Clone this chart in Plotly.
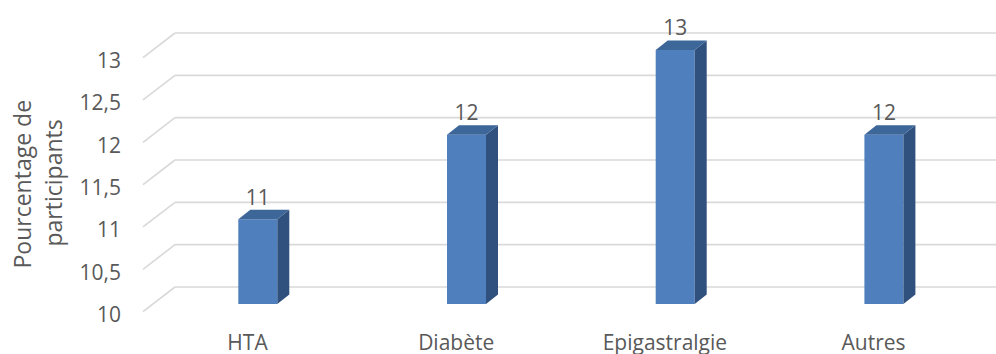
import plotly.graph_objects as go

# ---- data ----
categories = ["HTA", "Diabète", "Epigastralgie", "Autres"]
values = [11, 12, 13, 12]
tick_values = [10, 10.5, 11, 11.5, 12, 12.5, 13]
tick_labels = ["10", "10,5", "11", "11,5", "12", "12,5", "13"]
y_title_lines = ["Pourcentage de", "participants"]

# ---- geometry (pixels) ----
W, H = 996, 354
L, PT, PB = 143, 20, 330          # plot area left, top, bottom
BACK_X0 = 175                     # start of back wall
K = 254 / 3                       # pixels per unit on y
FLOOR = 10
BACK_FLOOR_PX = 287
FRONT_FLOOR_PX = 311.6
FRONT_LABEL_PX = 314.5            # row where the "10" tick label is centred
BAR_FLOOR_PX = 304
STEP = 208.7                      # pixels between categories
BAR_C0 = 257.8                    # pixel center of first bar front face
LABEL_C0 = 247.5                  # pixel center of first category label
LABEL_AXIS_PX = 327.5             # pixel row of the category label axis
BAR_W_PX = 39
DEPTH_DX_PX, DEPTH_DY_PX = 12, 9.5

TEXT = "#595959"
FONT = "Open Sans"
GRID = "#d9d9d9"
FRONT_COL, SIDE_COL, TOP_COL = "#4f7fbd", "#30517e", "#3d6699"


def yrange(floor_px):
    return [FLOOR + (floor_px - PB) / K, FLOOR + (floor_px - PT) / K]


def xrange(c0):
    return [(BACK_X0 - c0) / STEP, (W - c0) / STEP]


xpos = list(range(len(categories)))
hw = BAR_W_PX / STEP / 2
ddx = DEPTH_DX_PX / STEP
ddy = DEPTH_DY_PX / K

fig = go.Figure()

# front faces
fig.add_trace(go.Bar(
    x=xpos, y=[v - FLOOR for v in values], base=FLOOR, width=2 * hw,
    marker=dict(color=FRONT_COL, line=dict(width=0)),
    showlegend=False, hoverinfo="skip"))

# side and top faces
sx, sy, tx, ty = [], [], [], []
for c, v in zip(xpos, values):
    sx += [c + hw, c + hw + ddx, c + hw + ddx, c + hw, c + hw, None]
    sy += [FLOOR, FLOOR + ddy, v + ddy, v, FLOOR, None]
    tx += [c - hw, c + hw, c + hw + ddx, c - hw + ddx, c - hw, None]
    ty += [v, v, v + ddy, v + ddy, v, None]
fig.add_trace(go.Scatter(x=sx, y=sy, fill="toself", fillcolor=SIDE_COL,
                         mode="lines", line=dict(width=0, color=SIDE_COL),
                         showlegend=False, hoverinfo="skip"))
fig.add_trace(go.Scatter(x=tx, y=ty, fill="toself", fillcolor=TOP_COL,
                         mode="lines", line=dict(width=0, color=TOP_COL),
                         showlegend=False, hoverinfo="skip"))

# data labels
fig.add_trace(go.Scatter(
    x=xpos, y=[v + ddy for v in values], mode="text",
    text=[str(v) for v in values], textposition="top center",
    textfont=dict(family=FONT, size=21, color=TEXT),
    showlegend=False, hoverinfo="skip", cliponaxis=False))

# invisible carriers for the overlay axes
fig.add_trace(go.Scatter(x=xpos, y=[None] * len(xpos), mode="markers",
                         xaxis="x2", yaxis="y", showlegend=False, hoverinfo="skip"))
fig.add_trace(go.Scatter(x=[None], y=[None], mode="markers",
                         xaxis="x", yaxis="y2", showlegend=False, hoverinfo="skip"))
fig.add_trace(go.Scatter(x=[None], y=[None], mode="markers",
                         xaxis="x", yaxis="y3", showlegend=False, hoverinfo="skip"))

# back-wall lines and left-wall diagonal edges
front_shift = (FRONT_FLOOR_PX - BACK_FLOOR_PX) / K
dom0 = (BACK_X0 - L) / (W - L)
for v in tick_values:
    fig.add_shape(type="line", xref="paper", yref="y3",
                  x0=0, y0=v - front_shift, x1=dom0, y1=v,
                  line=dict(color=GRID, width=1.6), layer="below")
    fig.add_shape(type="line", xref="paper", yref="y3",
                  x0=dom0, y0=v, x1=1, y1=v,
                  line=dict(color=GRID, width=1.6), layer="below")

# y-axis title (two lines)
for line_text, px in zip(y_title_lines, [22, 53]):
    fig.add_annotation(text=line_text, textangle=-90, showarrow=False,
                       xref="paper", yref="paper",
                       x=(px - L) / (W - L), y=(PB - 183.5) / (PB - PT),
                       xanchor="center", yanchor="middle",
                       font=dict(family=FONT, size=23, color=TEXT))

fig.update_layout(
    width=W, height=H,
    margin=dict(l=L, r=0, t=PT, b=H - PB, pad=0, autoexpand=False),
    paper_bgcolor="white", plot_bgcolor="white",
    showlegend=False,
    xaxis=dict(domain=[dom0, 1], range=xrange(BAR_C0), showgrid=False,
               zeroline=False, showline=False, showticklabels=False,
               anchor="y", automargin=False),
    xaxis2=dict(overlaying="x", range=xrange(LABEL_C0), side="bottom",
                anchor="free", position=(PB - LABEL_AXIS_PX) / (PB - PT),
                tickvals=xpos, ticktext=categories,
                showgrid=False, zeroline=False, showline=False, ticks="",
                tickfont=dict(family=FONT, size=21, color=TEXT),
                automargin=False),
    yaxis=dict(range=yrange(BAR_FLOOR_PX), anchor="x", automargin=False,
               showticklabels=False, showgrid=False, zeroline=False,
               showline=False, ticks=""),
    yaxis2=dict(overlaying="y", anchor="free", position=0, side="left",
                range=yrange(FRONT_LABEL_PX), tickvals=tick_values,
                ticktext=tick_labels, showgrid=False, zeroline=False,
                showline=False, ticks="", ticklabelstandoff=22,
                automargin=False,
                tickfont=dict(family=FONT, size=21, color=TEXT)),
    yaxis3=dict(overlaying="y", anchor="x", range=yrange(BACK_FLOOR_PX),
                showticklabels=False, ticks="", showline=False,
                showgrid=False, zeroline=False, automargin=False),
)

fig.write_html("out.html")
